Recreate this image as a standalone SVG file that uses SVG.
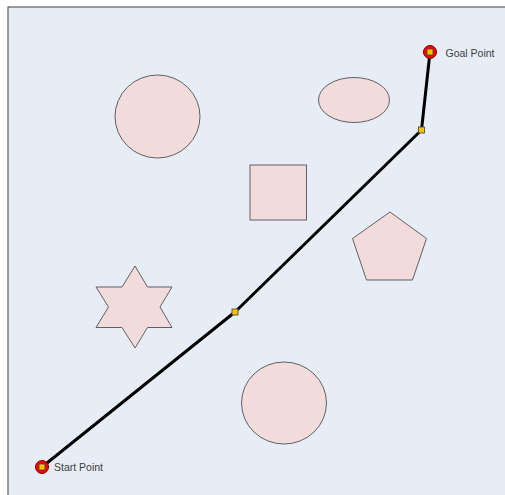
<svg xmlns="http://www.w3.org/2000/svg" width="505" height="495" viewBox="0 0 505 495">
<style>
.shape{fill:#f2dcdb;stroke:#606060;stroke-width:1}
.wp{fill:#ffc000;stroke:#404040;stroke-width:0.8}
.end{fill:#ff0000;stroke:#7f0000;stroke-width:1}
.lbl{font-family:"Liberation Sans",Arial,sans-serif;font-size:10.5px;fill:#404040}
</style>
<rect x="0" y="0" width="505" height="495" fill="#ffffff"/>
<rect x="8" y="7" width="500" height="492" fill="#e6edf7" stroke="#404040" stroke-width="1"/>
<g id="circle-top"><ellipse class="shape" cx="157.5" cy="116.5" rx="42.5" ry="41.5"/></g>
<g id="ellipse"><ellipse class="shape" cx="354" cy="100" rx="35.5" ry="22.5"/></g>
<g id="square"><rect class="shape" x="250" y="165" width="56.5" height="55"/></g>
<g id="pentagon"><polygon class="shape" points="390,212 426.5,238.5 412.5,280 366.5,280 352.5,238.5"/></g>
<g id="star"><polygon class="shape" points="135,266 147.5,287 172,287 160,307 172,327.5 147.5,327.5 135,348 122,327.5 96,327.5 108.5,307 96,287 122,287"/></g>
<g id="circle-bottom"><ellipse class="shape" cx="284" cy="403" rx="42.5" ry="41"/></g>
<g id="connectors">
<polyline points="42,467 235,312 421.5,130 430,52" fill="none" stroke="#000000" stroke-width="3" stroke-linejoin="round"/>
</g>
<g id="waypoint-1"><rect class="wp" x="232" y="309" width="6" height="6"/></g>
<g id="waypoint-2"><rect class="wp" x="418.5" y="127" width="6" height="6"/></g>
<g id="goal">
<circle class="end" cx="430" cy="52" r="6.5"/>
<rect class="wp" x="427" y="49" width="6" height="6"/>
<text class="lbl" x="445.5" y="56.5">Goal Point</text>
</g>
<g id="start">
<circle class="end" cx="42" cy="467" r="6.5"/>
<rect class="wp" x="39" y="464" width="6" height="6"/>
<text class="lbl" x="54" y="471">Start Point</text>
</g>
</svg>
